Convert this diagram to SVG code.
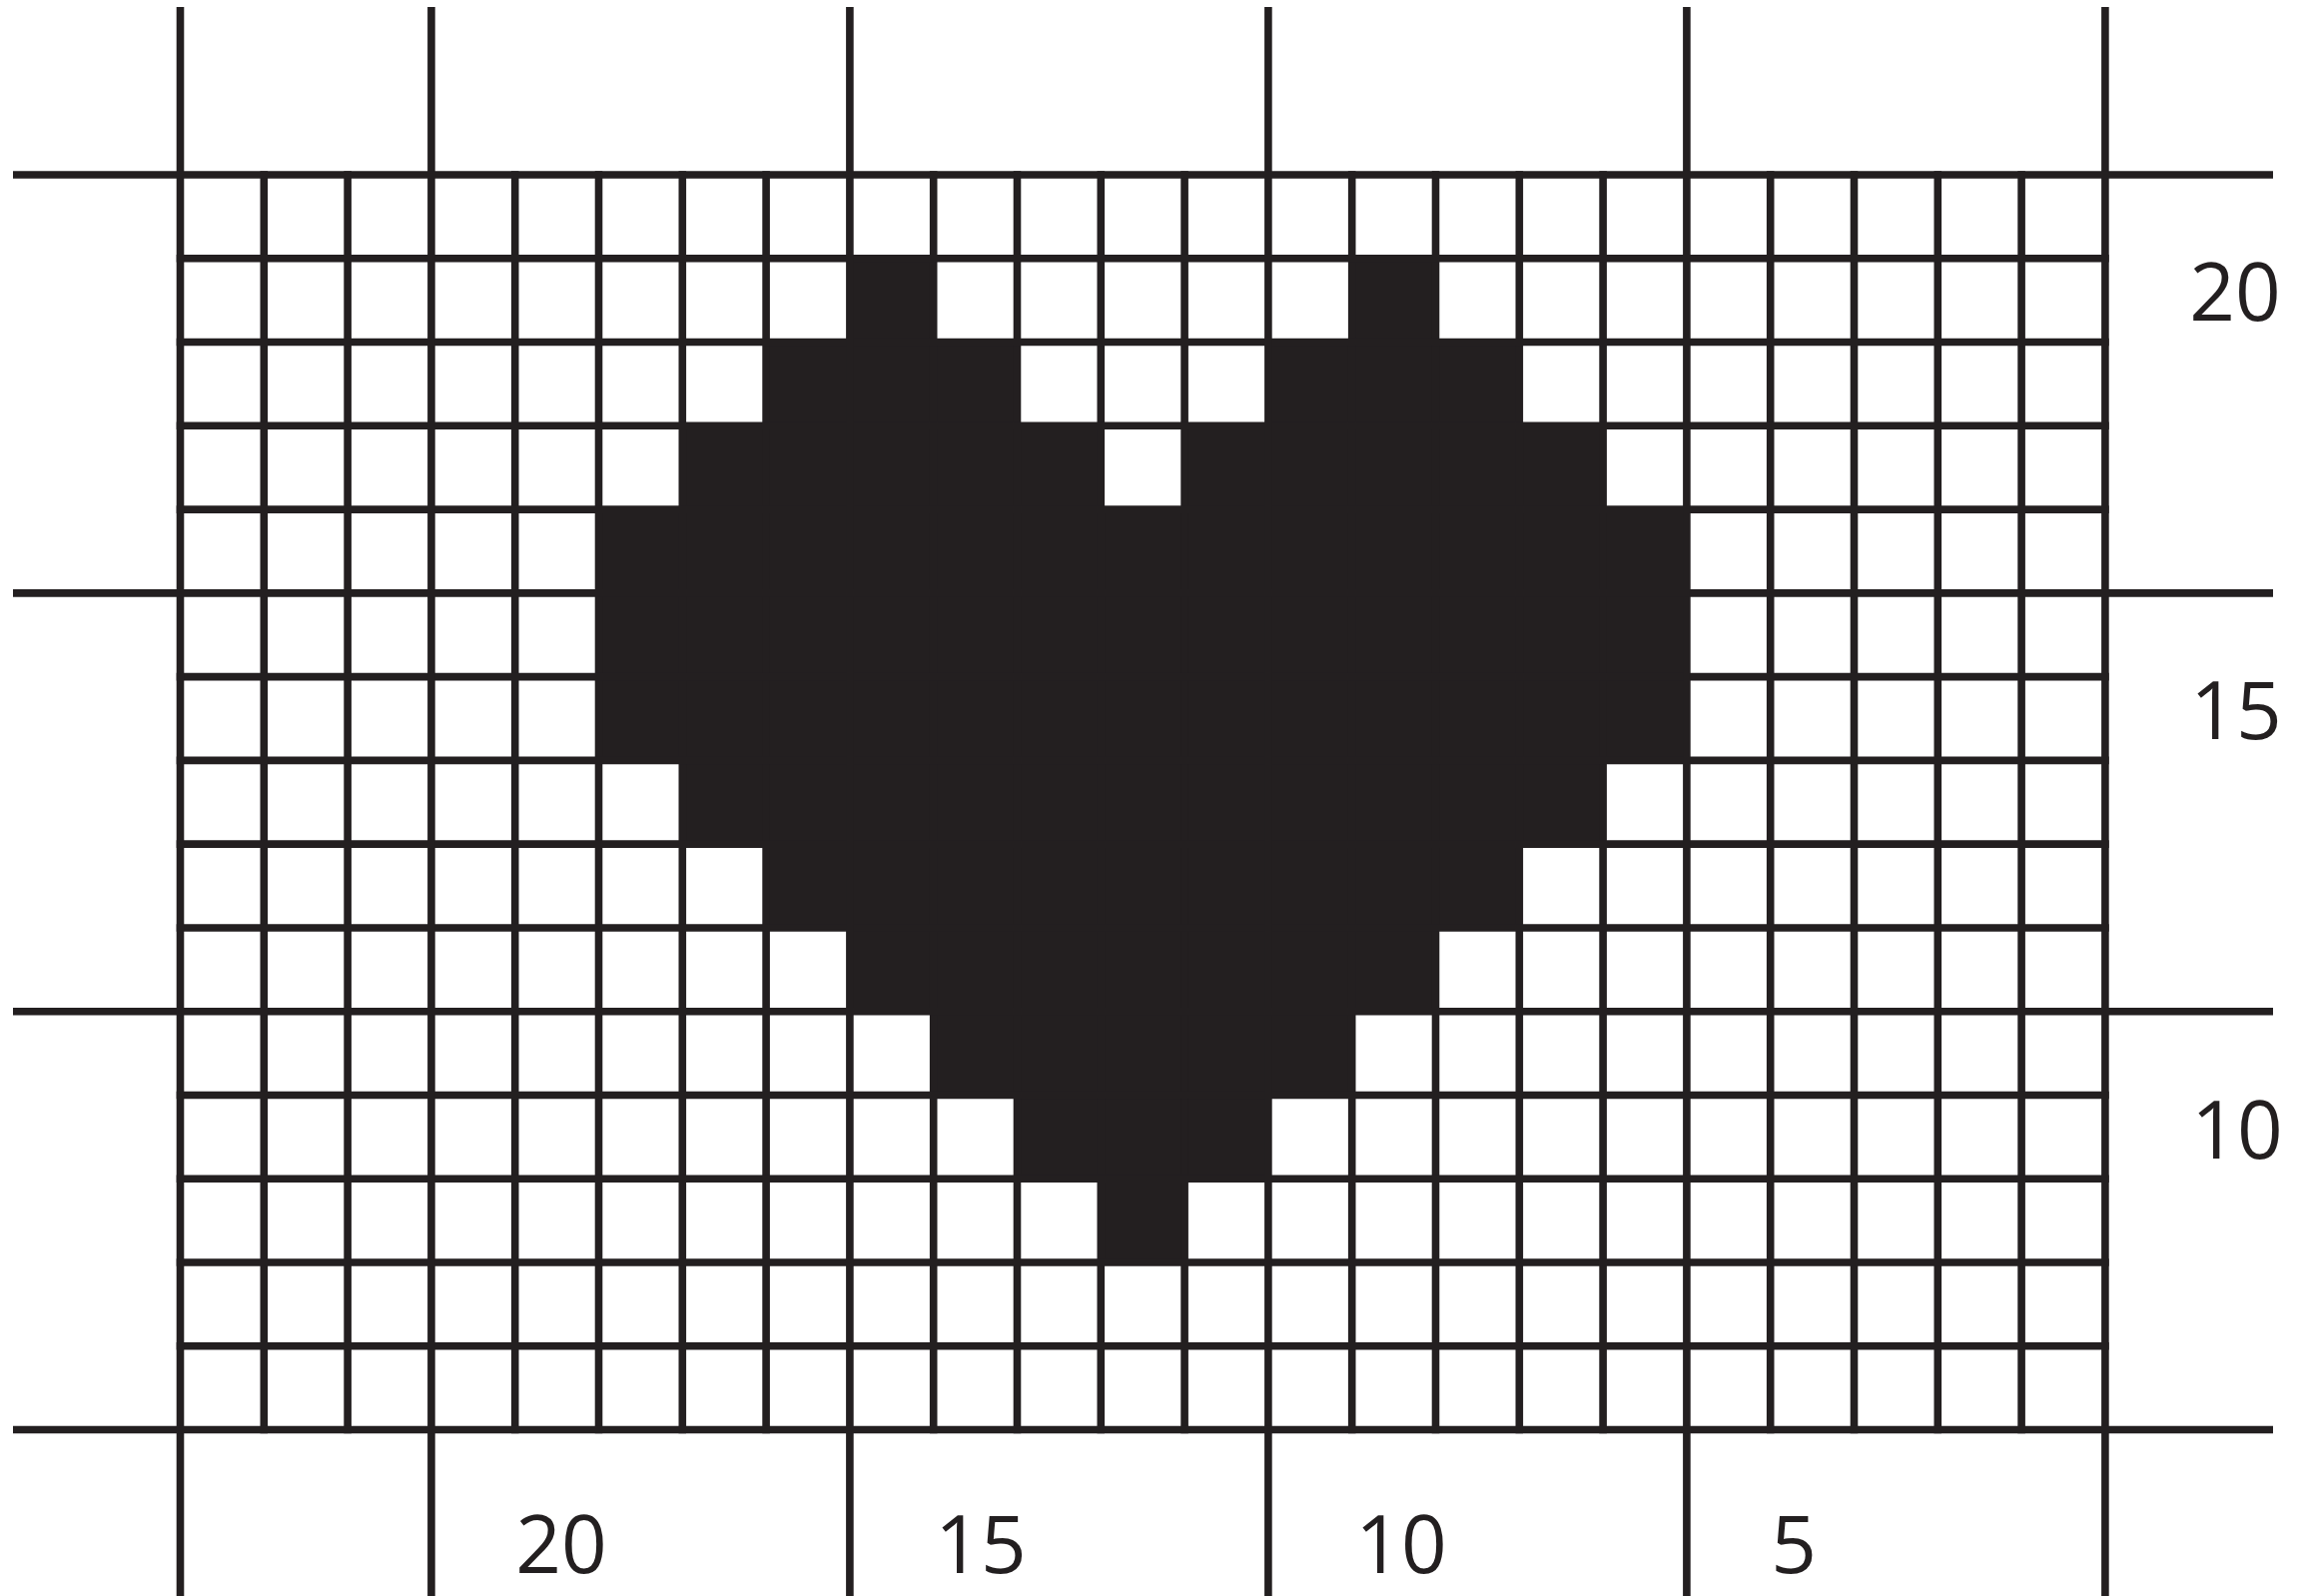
<svg xmlns="http://www.w3.org/2000/svg" width="2314" height="1598" viewBox="0 0 2314 1598">
<style>
.ln{stroke:#231f20;stroke-width:7.6;fill:none;stroke-linecap:butt}
.lbl{font-family:"Open Sans","Noto Sans","Liberation Sans",sans-serif;font-size:80px;fill:#231f20;text-anchor:middle}
</style>
<rect width="2314" height="1598" fill="#ffffff"/>
<g id="heart">
<path fill="#231f20" transform="matrix(83.8,0,0,83.77,180.5,175)" d="M8 1H9V2H10V3H11V4H12V3H13V2H14V1H15V2H16V3H17V4H18V7H17V8H16V9H15V10H14V11H13V12H12V13H11V12H10V11H9V10H8V9H7V8H6V7H5V4H6V3H7V2H8Z"/>
</g>
<g id="grid-minor" class="ln">
<path d="M264.3 171.2V1435.3M348.1 171.2V1435.3M515.7 171.2V1435.3M599.5 171.2V1435.3M683.3 171.2V1435.3M767.1 171.2V1435.3M934.7 171.2V1435.3M1018.5 171.2V1435.3M1102.3 171.2V1435.3M1186.1 171.2V1435.3M1353.7 171.2V1435.3M1437.5 171.2V1435.3M1521.3 171.2V1435.3M1605.1 171.2V1435.3M1772.7 171.2V1435.3M1856.5 171.2V1435.3M1940.3 171.2V1435.3M2024.1 171.2V1435.3"/>
<path d="M176.7 258.77H2111.7M176.7 342.54H2111.7M176.7 426.31H2111.7M176.7 510.08H2111.7M176.7 677.62H2111.7M176.7 761.39H2111.7M176.7 845.16H2111.7M176.7 928.93H2111.7M176.7 1096.47H2111.7M176.7 1180.24H2111.7M176.7 1264.01H2111.7M176.7 1347.78H2111.7"/>
</g>
<g id="grid-major" class="ln">
<path d="M180.5 7V1598M431.9 7V1598M850.9 7V1598M1269.9 7V1598M1688.9 7V1598M2107.9 7V1598"/>
<path d="M13 175H2276M13 593.85H2276M13 1012.7H2276M13 1431.55H2276"/>
</g>
<g id="row-labels">
<text class="lbl" x="2238" y="321">20</text>
<text class="lbl" x="2239" y="740">15</text>
<text class="lbl" x="2240" y="1160">10</text>
</g>
<g id="column-labels">
<text class="lbl" x="562" y="1575">20</text>
<text class="lbl" x="982" y="1575">15</text>
<text class="lbl" x="1403" y="1575">10</text>
<text class="lbl" x="1796" y="1575">5</text>
</g>
</svg>
